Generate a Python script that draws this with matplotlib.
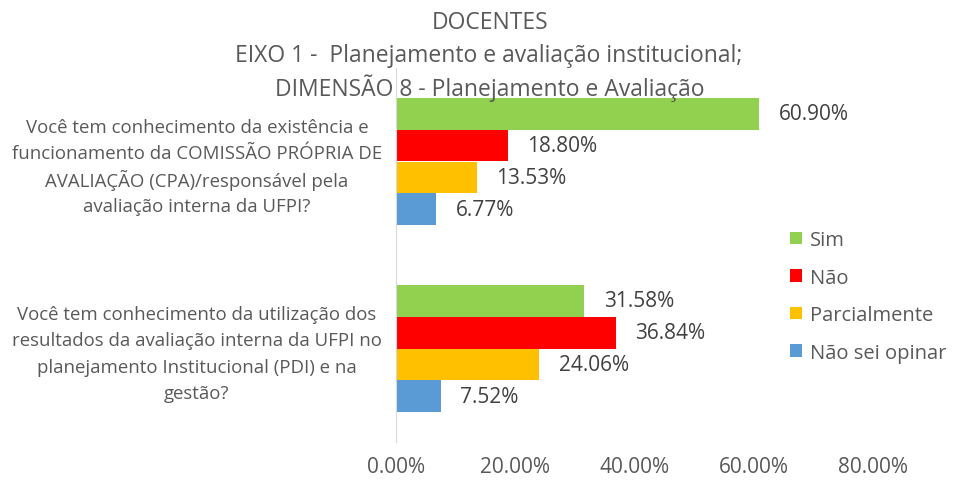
import matplotlib.pyplot as plt
import matplotlib.transforms as mtransforms
import numpy as np

plt.rcParams['font.family'] = ['Open Sans', 'DejaVu Sans']

# dados
perguntas = [
    ['Você tem conhecimento da existência e',
     'funcionamento da COMISSÃO PRÓPRIA DE',
     'AVALIAÇÃO (CPA)/responsável pela',
     'avaliação interna da UFPI?'],
    ['Você tem conhecimento da utilização dos',
     'resultados da avaliação interna da UFPI no',
     'planejamento Institucional (PDI) e na',
     'gestão?'],
]
respostas = ['Sim', 'Não', 'Parcialmente', 'Não sei opinar']
sim = [60.90, 31.58]
nao = [18.80, 36.84]
parcialmente = [13.53, 24.06]
nao_sei = [6.77, 7.52]
xticks = [0, 20, 40, 60, 80]

cores = ['#92D050', '#FF0000', '#FFC000', '#5B9BD5']
cinza = '#595959'

fig = plt.figure(figsize=(9.57, 4.81), dpi=100)
ax = fig.add_axes([396 / 957, 1 - 443 / 481, 477 / 957, 374 / 481])

y = np.arange(len(perguntas))
h = 0.17
series = [sim, nao, parcialmente, nao_sei]
for i, (vals, cor, nome) in enumerate(zip(series, cores, respostas)):
    pos = y + (i - 1.5) * h
    bars = ax.barh(pos, vals, height=h, color=cor, label=nome)
    for b, v in zip(bars, vals):
        ax.annotate(f'{v:.2f}%', (v, b.get_y() + h / 2), xytext=(14, 0),
                    textcoords='offset points', va='center', ha='left',
                    fontsize=15, color='#404040')

ax.set_xlim(0, 80)
ax.set_ylim(1.5, -0.5)
ax.set_xticks(xticks)
ax.set_xticklabels([f'{t:.2f}%' for t in xticks], fontsize=15, color=cinza)
ax.set_yticks([])
ax.tick_params(axis='x', length=0, pad=10)

# rótulos das perguntas, linha a linha
trans = mtransforms.blended_transform_factory(fig.transFigure, ax.transData)
for yc, linhas in zip(y, perguntas):
    for k, linha in enumerate(linhas):
        dy = -(5 + (k - 1.5) * 26.5) * 72 / 100
        ax.annotate(linha, (197 / 957, yc), xycoords=trans, xytext=(0, dy),
                    textcoords='offset points', ha='center', va='center',
                    fontsize=13.4, color=cinza, annotation_clip=False)

for s in ['top', 'right', 'bottom']:
    ax.spines[s].set_visible(False)
ax.spines['left'].set_color('#D9D9D9')

fig.text(490 / 957, 1 - 23 / 481, 'DOCENTES', ha='center', va='center',
         fontsize=16.5, color=cinza)
fig.text(489 / 957, 1 - 56 / 481, 'EIXO 1 -  Planejamento e avaliação institucional;',
         ha='center', va='center', fontsize=16.5, color=cinza)
fig.text(490 / 957, 1 - 88 / 481, 'DIMENSÃO 8 - Planejamento e Avaliação',
         ha='center', va='center', fontsize=16.5, color=cinza)

leg = ax.legend(loc='upper left', bbox_to_anchor=(772 / 957, 1 - 213 / 481),
                bbox_transform=fig.transFigure, frameon=False, fontsize=14.5,
                handlelength=0.6, handleheight=0.6, handletextpad=0.4,
                labelspacing=0.87)
for t in leg.get_texts():
    t.set_color(cinza)

fig.savefig('out.png', dpi=100)
